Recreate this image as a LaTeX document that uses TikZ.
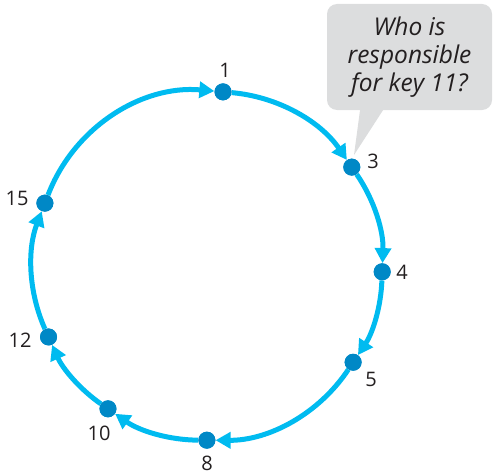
\documentclass[tikz,border=0pt]{standalone}
\usepackage{fontspec}
\setmainfont{Open Sans}
\usetikzlibrary{arrows.meta}
\definecolor{ringc}{RGB}{0,187,240}
\definecolor{dotc}{RGB}{0,136,198}
\definecolor{bubblec}{RGB}{220,221,222}
\definecolor{textc}{RGB}{35,31,32}
\tikzset{
  ring/.style={draw=ringc, line width=5pt, -{Triangle[length=15pt,width=16pt]}},
  dotnode/.style={circle, fill=dotc, inner sep=0pt, minimum size=17pt},
  lab/.style={text=textc, font=\fontsize{20}{24}\selectfont, inner sep=0pt},
  bubble/.style={fill=bubblec, rounded corners=10pt, text=textc, align=center,
    font=\fontsize{24.5}{28.3}\selectfont\itshape, minimum width=165pt, minimum height=106pt, inner sep=0pt}
}
\begin{document}
\begin{tikzpicture}[x=1pt,y=1pt]
\useasboundingbox (0,0) rectangle (497,475);
\coordinate (c) at (207.8,209.3);
% nodes on the ring
\node[dotnode] (n1)  at ([shift={(85:174.5pt)}]c) {};
\node[dotnode] (n3)  at ([shift={(34.4:174.5pt)}]c) {};
\node[dotnode] (n4)  at ([shift={(-2:174.5pt)}]c) {};
\node[dotnode] (n5)  at ([shift={(-33.6:174.5pt)}]c) {};
\node[dotnode] (n8)  at ([shift={(-90.3:174.5pt)}]c) {};
\node[dotnode] (n10) at ([shift={(-124.9:174.5pt)}]c) {};
\node[dotnode] (n12) at ([shift={(-155.9:174.5pt)}]c) {};
\node[dotnode] (n15) at ([shift={(159:174.5pt)}]c) {};
% ring arcs
\draw[ring] (n15) to[bend left=37, looseness=0.947] (n1);
\draw[ring] (n1) to[bend left=25.3, looseness=0.894] (n3);
\draw[ring] (n3) to[bend left=18.2, looseness=0.874] (n4);
\draw[ring] (n4) to[bend left=15.8, looseness=0.868] (n5);
\draw[ring] (n5) to[bend left=28.35, looseness=0.906] (n8);
\draw[ring] (n8) to[bend left=17.3, looseness=0.871] (n10);
\draw[ring] (n10) to[bend left=15.5, looseness=0.868] (n12);
\draw[ring] (n12) to[bend left=22.55, looseness=0.885] (n15);
% redraw dots on top
\foreach \n in {n1,n3,n4,n5,n8,n10,n12,n15} {\fill[dotc] (\n.center) circle[radius=8.5pt];}
% labels
\node[lab] (l1)  at (225,405) {1};
\node[lab] (l3)  at (373,314) {3};
\node[lab] (l4)  at (402,203) {4};
\node[lab] (l5)  at (371,96) {5};
\node[lab] (l8)  at (207,12) {8};
\node[lab] (l10) at (99,42) {10};
\node[lab] (l12) at (20,135) {12};
\node[lab] (l15) at (17,277) {15};
% callout
\node[bubble] (q) at (409.5,418) {Who is\\responsible\\for key 11?};
\coordinate (tip) at (354,320);
\fill[bubblec] ([xshift=-49.5pt]q.south) -- (tip) -- ([xshift=-26.5pt]q.south) -- cycle;
\end{tikzpicture}
\end{document}
